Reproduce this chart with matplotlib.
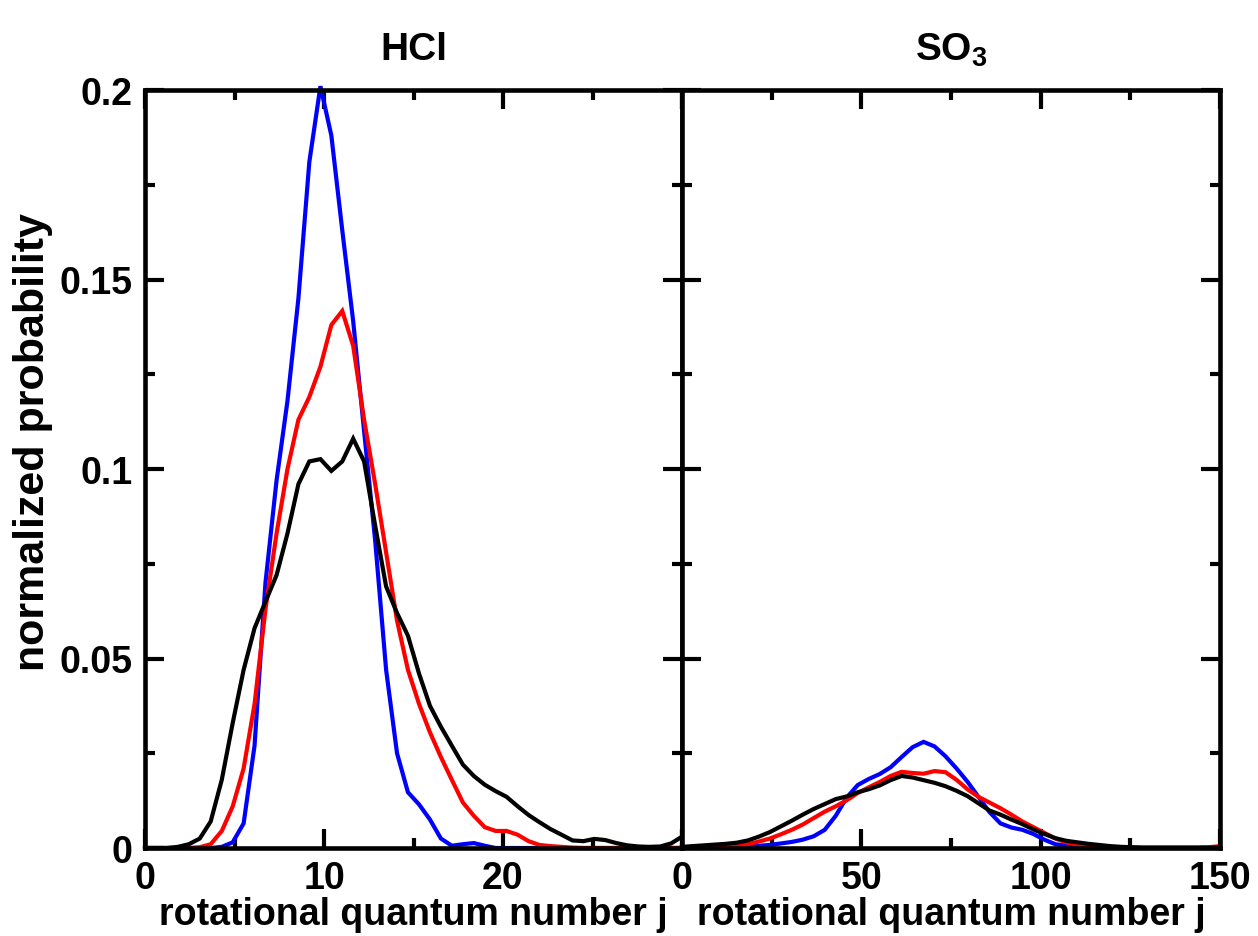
import matplotlib
matplotlib.use('Agg')
import matplotlib.pyplot as plt
from matplotlib.ticker import MultipleLocator

plt.rcParams['font.family'] = ['Liberation Sans', 'DejaVu Sans']
plt.rcParams['font.weight'] = 'bold'
plt.rcParams['mathtext.fontset'] = 'custom'
plt.rcParams['mathtext.rm'] = 'Liberation Sans:bold'
plt.rcParams['mathtext.bf'] = 'Liberation Sans:bold'

# HCl panel: rotational quantum number j and probabilities
j_hcl = [0.00, 0.61, 1.22, 1.84, 2.45, 3.06, 3.67, 4.29, 4.90, 5.51,
         6.12, 6.73, 7.35, 7.96, 8.57, 9.18, 9.80, 10.41, 11.02, 11.63,
         12.24, 12.86, 13.47, 14.08, 14.69, 15.31, 15.92, 16.53, 17.14, 17.76,
         18.37, 18.98, 19.59, 20.20, 20.82, 21.43, 22.04, 22.65, 23.27, 23.88,
         24.49, 25.10, 25.71, 26.33, 26.94, 27.55, 28.16, 28.78, 29.39, 30.00]
blue_hcl = [0, 0, 0, 0, 0, 0, 0, 0.0003, 0.0015, 0.0065,
            0.027, 0.070, 0.097, 0.118, 0.145, 0.181, 0.201, 0.188, 0.163, 0.139,
            0.110, 0.081, 0.047, 0.025, 0.0147, 0.0115, 0.0075, 0.0025, 0.0006, 0.0010,
            0.0013, 0.0006, 0, 0, 0, 0, 0, 0, 0, 0,
            0, 0, 0, 0, 0, 0, 0, 0, 0, 0]
red_hcl = [0, 0, 0, 0, 0, 0.0002, 0.001, 0.0045, 0.011, 0.021,
           0.038, 0.063, 0.083, 0.100, 0.113, 0.119, 0.127, 0.138, 0.1417, 0.1325,
           0.113, 0.096, 0.078, 0.060, 0.047, 0.038, 0.0305, 0.024, 0.018, 0.012,
           0.0085, 0.0055, 0.0045, 0.0045, 0.0035, 0.0018, 0.0008, 0.0005, 0.0003, 0.0001,
           0, 0, 0, 0, 0, 0, 0, 0, 0, 0]
black_hcl = [0, 0, 0, 0.0003, 0.001, 0.0025, 0.007, 0.018, 0.033, 0.047,
             0.058, 0.065, 0.072, 0.083, 0.096, 0.102, 0.1026, 0.0995, 0.102, 0.108,
             0.102, 0.085, 0.069, 0.062, 0.056, 0.046, 0.0375, 0.032, 0.027, 0.022,
             0.019, 0.0167, 0.015, 0.0135, 0.011, 0.0087, 0.0068, 0.005, 0.0035, 0.002,
             0.0018, 0.0024, 0.0021, 0.0013, 0.0007, 0.0004, 0.0003, 0.0004, 0.0012, 0.003]

# SO3 panel
j_so3 = [0.0, 3.06, 6.12, 9.18, 12.24, 15.31, 18.37, 21.43, 24.49, 27.55,
         30.61, 33.67, 36.73, 39.80, 42.86, 45.92, 48.98, 52.04, 55.10, 58.16,
         61.22, 64.29, 67.35, 70.41, 73.47, 76.53, 79.59, 82.65, 85.71, 88.78,
         91.84, 94.90, 97.96, 101.02, 104.08, 107.14, 110.20, 113.27, 116.33, 119.39,
         122.45, 125.51, 128.57, 131.63, 134.69, 137.76, 140.82, 143.88, 146.94, 150.0]
blue_so3 = [0, 0, 0, 0, 0, 0.0002, 0.0004, 0.0006, 0.0008, 0.0012,
            0.0016, 0.0022, 0.0031, 0.0048, 0.0085, 0.0133, 0.0166, 0.0182, 0.0195, 0.0213,
            0.024, 0.0266, 0.028, 0.0268, 0.0242, 0.021, 0.0175, 0.0135, 0.0095, 0.0065,
            0.0054, 0.0048, 0.0037, 0.0022, 0.001, 0.0006, 0.0003, 0, 0, 0,
            0, 0, 0, 0, 0, 0, 0, 0, 0, 0]
red_so3 = [0, 0, 0, 0, 0.0002, 0.0005, 0.001, 0.0017, 0.0025, 0.0036,
           0.0048, 0.0062, 0.0079, 0.0096, 0.011, 0.0126, 0.0145, 0.016, 0.0174, 0.019,
           0.0201, 0.0198, 0.0196, 0.0203, 0.020, 0.018, 0.0155, 0.0135, 0.012, 0.0105,
           0.0088, 0.007, 0.0055, 0.004, 0.0025, 0.0015, 0.0009, 0.0005, 0.0003, 0.0001,
           0.0001, 0.0001, 0.0001, 0.0001, 0.0001, 0.0001, 0.0001, 0.0001, 0.0002, 0.0005]
black_so3 = [0.0003, 0.0005, 0.0007, 0.0009, 0.0011, 0.0014, 0.002, 0.003, 0.0042, 0.0057,
             0.0072, 0.0088, 0.0103, 0.0116, 0.0129, 0.0136, 0.0147, 0.0155, 0.0165, 0.0179,
             0.019, 0.0186, 0.0179, 0.0172, 0.0163, 0.0151, 0.0137, 0.0118, 0.0099, 0.0088,
             0.0075, 0.0063, 0.0049, 0.0037, 0.0026, 0.0019, 0.0015, 0.0011, 0.0008, 0.0005,
             0.0003, 0.0002, 0.0001, 0.0001, 0.0001, 0.0001, 0.0001, 0.0001, 0.0001, 0.0001]

W, H = 1258, 937
fig = plt.figure(figsize=(W / 100, H / 100), dpi=100)
ax_l = fig.add_axes([145 / W, 1 - 849 / H, 537 / W, 758 / H])
ax_r = fig.add_axes([682 / W, 1 - 849 / H, 538 / W, 758 / H])

panels = [
    (ax_l, j_hcl, [blue_hcl, red_hcl, black_hcl], 'HCl', 30, 10, 5),
    (ax_r, j_so3, [blue_so3, red_so3, black_so3], r'$\mathbf{SO_3}$', 150, 50, 25),
]
colors = ['#0000ff', '#ff0000', '#000000']

for ax, x, series, title, xmax, major, minor in panels:
    for y, c in zip(series, colors):
        ax.plot(x, y, color=c, lw=3.0, solid_joinstyle='miter', clip_on=False)
    ax.set_xlim(0, xmax)
    ax.set_ylim(0, 0.2)
    ax.xaxis.set_major_locator(MultipleLocator(major))
    ax.xaxis.set_minor_locator(MultipleLocator(minor))
    ax.yaxis.set_major_locator(MultipleLocator(0.05))
    ax.yaxis.set_minor_locator(MultipleLocator(0.025))
    ax.tick_params(which='both', direction='in', top=True, right=True, width=3.0,
                   labelsize=27, pad=9)
    ax.tick_params(which='major', length=14)
    ax.tick_params(which='minor', length=7)
    for sp in ax.spines.values():
        sp.set_linewidth(3.3)
    ax.set_title(title, fontsize=28, fontweight='bold', pad=22)
    ax.set_xlabel('rotational quantum number j', fontsize=27, fontweight='bold', labelpad=0)

ax_l.set_xticks([0, 10, 20, 30])
ax_l.set_xticklabels(['0', '10', '20', ''])
ax_l.set_yticks([0, 0.05, 0.1, 0.15, 0.2])
ax_l.set_yticklabels(['0', '0.05', '0.1', '0.15', '0.2'])
ax_r.tick_params(labelleft=False)

fig.text(33 / W, 1 - 442 / H, 'normalized probability', rotation=90, ha='center', va='center',
         fontsize=31, fontweight='bold')

fig.savefig('out.png', dpi=100)
